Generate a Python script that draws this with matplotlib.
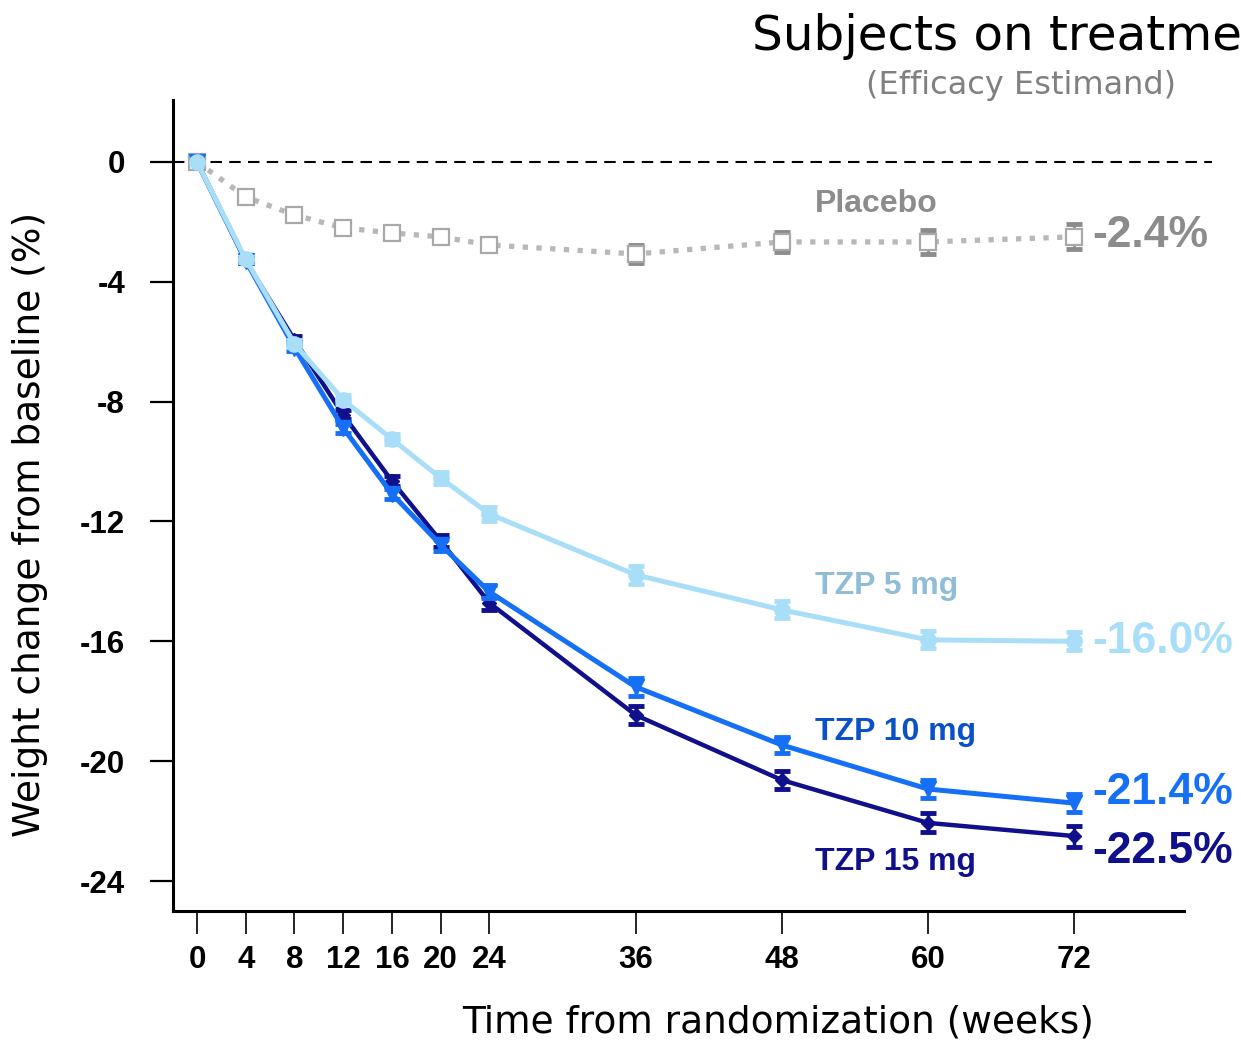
import matplotlib
matplotlib.use("Agg")
import matplotlib.pyplot as plt

weeks = [0, 4, 8, 12, 16, 20, 24, 36, 48, 60, 72]
tick_labels_x = ["0", "4", "8", "12", "16", "20", "24", "36", "48", "60", "72"]
yticks = [0, -4, -8, -12, -16, -20, -24]
tick_labels_y = ["0", "-4", "-8", "-12", "-16", "-20", "-24"]

placebo = [0, -1.17, -1.77, -2.2, -2.37, -2.5, -2.77, -3.07, -2.67, -2.67, -2.5]
placebo_se = [0, 0.05, 0.08, 0.1, 0.12, 0.14, 0.16, 0.3, 0.32, 0.4, 0.42]
tzp5 = [0, -3.25, -6.07, -7.94, -9.25, -10.55, -11.75, -13.78, -14.95, -15.95, -16.0]
tzp5_se = [0, 0.08, 0.12, 0.15, 0.18, 0.2, 0.22, 0.3, 0.28, 0.28, 0.3]
tzp10 = [0, -3.3, -6.2, -8.88, -11.08, -12.78, -14.35, -17.52, -19.46, -20.93, -21.4]
tzp10_se = [0, 0.08, 0.12, 0.15, 0.18, 0.2, 0.22, 0.3, 0.28, 0.3, 0.3]
tzp15 = [0, -3.3, -5.94, -8.44, -10.65, -12.65, -14.72, -18.46, -20.63, -22.06, -22.5]
tzp15_se = [0, 0.08, 0.12, 0.15, 0.18, 0.2, 0.22, 0.3, 0.3, 0.32, 0.35]

final_labels = ["-2.4%", "-16.0%", "-21.4%", "-22.5%"]
series_names = ["Placebo", "TZP 5 mg", "TZP 10 mg", "TZP 15 mg"]

c_plac_line = "#b8b8b8"
c_plac_dark = "#8c8c8c"
c5 = "#a9def8"
c5_text = "#8fbcd6"
c10 = "#1670f5"
c10_text = "#0a50c8"
c15 = "#10108c"

fig = plt.figure(figsize=(12.41, 10.41), dpi=100)
ax = fig.add_axes([0.1394, 0.1249, 0.8146, 0.7791])
ax.set_xlim(-1.97, 81.0)
ax.set_ylim(-25.0, 2.07)

# zero reference line
ax.plot([-1.97, 83.3], [0, 0], color="black", lw=1.5, ls=(0, (5.5, 3.5)),
        clip_on=False, zorder=1)

# Placebo
ax.errorbar(weeks, placebo, yerr=placebo_se, fmt="none", ecolor=c_plac_dark,
            elinewidth=2, capsize=6, capthick=3.5, zorder=2)
ax.plot(weeks, placebo, color=c_plac_line, lw=3.8, ls=(0, (1, 1.6)),
        dash_capstyle="butt", zorder=2)
ax.plot(weeks, placebo, ls="none", marker="s", ms=11, mfc="white",
        mec="#a8a8a8", mew=1.6, zorder=3)

# TZP 15
ax.errorbar(weeks, tzp15, yerr=tzp15_se, color=c15, lw=3.2, marker="D", ms=7,
            elinewidth=2.5, capsize=6, capthick=3.5, zorder=4)
# TZP 10
ax.errorbar(weeks, tzp10, yerr=tzp10_se, color=c10, lw=3.6, marker="v", ms=12,
            elinewidth=2.5, capsize=6, capthick=3.5, zorder=5)
# TZP 5
ax.errorbar(weeks, tzp5, yerr=tzp5_se, color=c5, lw=3.6, marker="o", ms=11,
            elinewidth=2.5, capsize=6, capthick=3.5, zorder=6)

lab_font = dict(family=["Liberation Sans", "DejaVu Sans"], fontweight="bold")
ax.text(50.7, -1.40, series_names[0], color=c_plac_dark, fontsize=23, va="center", ha="left", **lab_font)
ax.text(50.7, -14.15, series_names[1], color=c5_text, fontsize=23, va="center", ha="left", **lab_font)
ax.text(50.7, -19.03, series_names[2], color=c10_text, fontsize=23, va="center", ha="left", **lab_font)
ax.text(50.7, -23.36, series_names[3], color=c15, fontsize=23, va="center", ha="left", **lab_font)

ax.text(73.5, -2.47, final_labels[0], color=c_plac_dark, fontsize=32, va="center", ha="left", clip_on=False, **lab_font)
ax.text(73.5, -15.99, final_labels[1], color=c5, fontsize=32, va="center", ha="left", clip_on=False, **lab_font)
ax.text(73.5, -21.06, final_labels[2], color=c10, fontsize=32, va="center", ha="left", clip_on=False, **lab_font)
ax.text(73.5, -23.0, final_labels[3], color=c15, fontsize=32, va="center", ha="left", clip_on=False, **lab_font)

# axes styling
for s in ["top", "right"]:
    ax.spines[s].set_visible(False)
for s in ["left", "bottom"]:
    ax.spines[s].set_linewidth(2.2)
ax.set_xticks(weeks)
ax.set_xticklabels(tick_labels_x)
ax.set_yticks(yticks)
ax.set_yticklabels(tick_labels_y)
ax.tick_params(axis="y", direction="out", length=16.5, width=1.6, pad=18)
ax.tick_params(axis="x", direction="out", length=16.5, width=1.2, pad=8)
for t in ax.get_xticklabels() + ax.get_yticklabels():
    t.set_fontfamily(["Liberation Sans", "DejaVu Sans"])
    t.set_fontweight("bold")
    t.set_fontsize(22.5)

fig.text(0.6273, 0.0077, "Time from randomization (weeks)", fontsize=27,
         ha="center", va="baseline", family="DejaVu Sans")
fig.text(0.0242, 0.4966, "Weight change from baseline (%)", fontsize=27,
         ha="center", va="center", rotation=90, family="DejaVu Sans")
fig.text(0.606, 0.952, "Subjects on treatme", fontsize=34.8, ha="left",
         va="baseline", family="DejaVu Sans", color="black")
fig.text(0.698, 0.9097, "(Efficacy Estimand)", fontsize=23, ha="left",
         va="baseline", family="DejaVu Sans", color="#808080")

fig.savefig("out.png", dpi=100)
